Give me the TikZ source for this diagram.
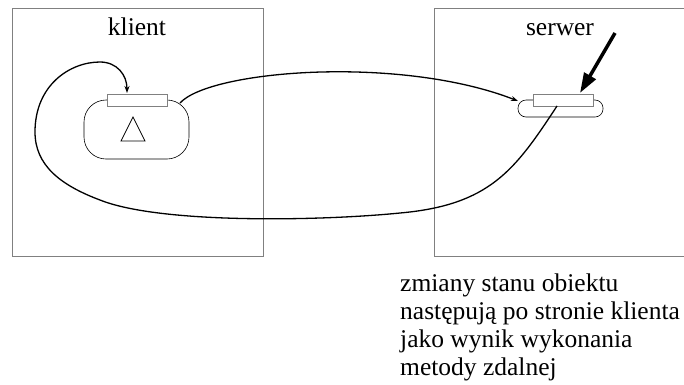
\documentclass[tikz,border=0pt]{standalone}
\usepackage{fontspec}
\setmainfont{Liberation Serif}
\usetikzlibrary{arrows.meta}

\begin{document}
\begin{tikzpicture}[x=1pt, y=-1pt,
    frame/.style={draw=gray, line width=0.8pt},
    slot/.style={draw=gray, fill=white, line width=0.8pt},
    link/.style={line width=1.3pt, -{Stealth[length=7pt, width=5pt]}},
    label/.style={font=\fontsize{25.5}{28}\selectfont, inner sep=0pt}]
    \useasboundingbox (0,0) rectangle (684,384);

    \coordinate (A) at (12,8);
    \coordinate (B) at (263,256);
    \coordinate (C) at (434,8);
    \coordinate (D) at (690,256);

    % Cadres client et serveur
    \draw[frame] (A) rectangle (B);
    \draw[frame] (C) rectangle (D);
    \node[label, anchor=base] (klient) at (137,35) {klient};
    \node[label, anchor=base] (serwer) at (560,35) {serwer};

    % Objet du client
    \draw[rounded corners=22pt, line width=0.6pt] (84,100) rectangle (189,159);
    \draw[slot] (107,94) rectangle (167,106);
    \draw[line width=0.8pt] (121,141) -- (145,141) -- (133,117) -- cycle;

    % Objet du serveur
    \draw[rounded corners=8pt, line width=0.6pt] (518,100) rectangle (603,117);
    \draw[slot] (533,94) rectangle (593,106);

    \coordinate (E) at (127,93);
    \coordinate (F) at (180,103);
    \coordinate (G) at (518,101);
    \coordinate (H) at (557,106);
    \coordinate (I) at (580,93);
    \coordinate (J) at (615,33);

    \draw[link] (F) .. controls (210,70) and (400,55) .. (G);
    \draw[link] (H) .. controls (515,170) and (490,205) .. (400,213)
        .. controls (320,221) and (160,224) .. (100,200)
        .. controls (60,185) and (35,165) .. (35,132)
        .. controls (35,85) and (70,62) .. (100,62)
        .. controls (117,62) and (127,75) .. (E);
    \draw[line width=3.5pt, -{Triangle[length=20pt, width=13pt]}] (J) -- (I);

    % Texte
    \node[label, anchor=north west, align=left] (opis) at (400,274)
        {zmiany stanu obiektu\\następują po stronie klienta\\jako wynik wykonania\\metody zdalnej};
\end{tikzpicture}
\end{document}
